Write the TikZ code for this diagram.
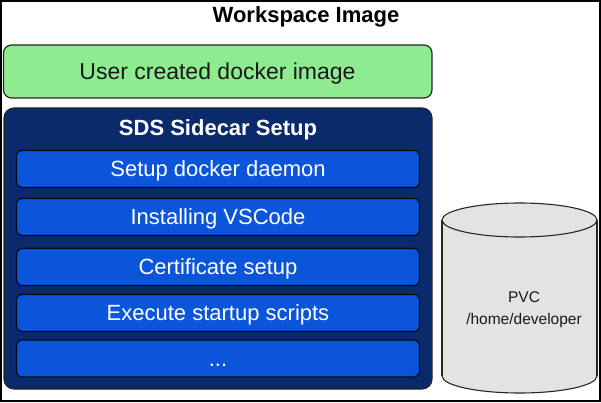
\documentclass[tikz,border=0pt]{standalone}
\usepackage{fontspec}
\setmainfont{Liberation Sans}
\definecolor{usergreen}{HTML}{8FEB8F}
\definecolor{navy}{HTML}{0B2A6C}
\definecolor{stepblue}{HTML}{0A55DA}
\definecolor{cylgray}{HTML}{E1E3E5}
\tikzset{
  frame/.style={draw=black, line width=1.6pt},
  greenbox/.style={draw=black!85, line width=1.2pt, fill=usergreen, rounded corners=8pt},
  navybox/.style={draw=black!85, line width=1.2pt, fill=navy, rounded corners=10pt},
  captext/.style={inner sep=0pt, text height=15.8pt, text depth=0pt},
  stepbox/.style={draw=black!80!navy, line width=1.1pt, fill=stepblue, rounded corners=6pt,
    minimum width=403pt, minimum height=37pt, inner sep=0pt, text height=15.8pt, text depth=0pt,
    text=white, font=\fontsize{22}{26}\selectfont},
  cylline/.style={draw=black!85, line width=1.1pt},
}
\begin{document}
\begin{tikzpicture}[x=1pt,y=-1pt]
\useasboundingbox (0,0) rectangle (601,403);
\draw[frame] (0.8,0.8) rectangle (599.8,401.2);
\node[captext, font=\bfseries\fontsize{22}{26}\selectfont] (title) at (306,15) {Workspace Image};
% green
\draw[greenbox] (3.5,45) rectangle (432,98);
\node[captext, text height=16.5pt, font=\fontsize{23}{27}\selectfont, text=black!90] (user) at (217.5,71.5) {User created docker image};
% navy
\draw[navybox] (4,108) rectangle (432,389);
\node[captext, font=\bfseries\fontsize{22}{26}\selectfont, text=white] (sds) at (218,127.5) {SDS Sidecar Setup};
\node[stepbox] (s1) at (218,169) {Setup docker daemon};
\node[stepbox] (s2) at (218,217) {Installing VSCode};
\node[stepbox] (s3) at (218,267) {Certificate setup};
\node[stepbox] (s4) at (218,313) {Execute startup scripts};
\node[stepbox] (s5) at (218,358.5) {...};
% cylinder
\filldraw[cylline, fill=cylgray] (519.5,376) ellipse[x radius=77.5, y radius=17];
\fill[cylgray] (442,220) rectangle (597,376);
\draw[cylline] (442,220) -- (442,376.2) (597,220) -- (597,376.2);
\filldraw[cylline, fill=cylgray] (519.5,220) ellipse[x radius=77.5, y radius=17];
\node[align=center, font=\fontsize{15.5}{22}\selectfont, text=black!90] (pvc) at (524,310) {PVC\\/home/developer};
\end{tikzpicture}
\end{document}
